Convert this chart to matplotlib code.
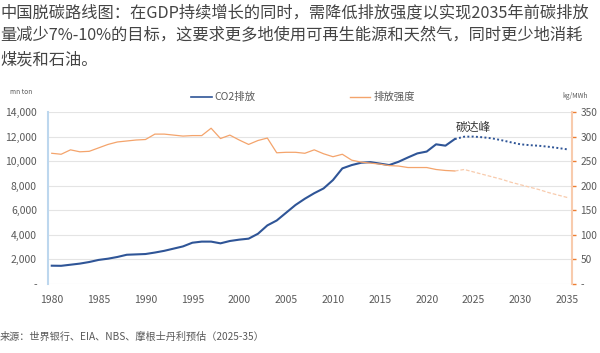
import matplotlib
matplotlib.use("Agg")
import matplotlib.pyplot as plt
from matplotlib.ticker import FuncFormatter, MultipleLocator
from matplotlib.lines import Line2D

plt.rcParams['font.family'] = ['Noto Sans CJK SC', 'DejaVu Sans']

years_hist = list(range(1980, 2024))
co2_hist = [1490, 1480, 1570, 1660, 1790, 1960, 2060, 2200, 2380, 2410,
            2440, 2560, 2700, 2880, 3060, 3360, 3450, 3450, 3310, 3500,
            3610, 3690, 4090, 4770, 5170, 5800, 6430, 6940, 7390, 7780,
            8460, 9410, 9680, 9870, 9920, 9800, 9680, 9950, 10300, 10630,
            10780, 11370, 11260, 11800]
years_proj = list(range(2023, 2036))
co2_proj = [11800, 11990, 12000, 11940, 11850, 11700, 11530, 11370, 11300,
            11250, 11170, 11070, 10960]

int_hist = [266, 264, 273, 269, 270, 277, 284, 289, 291, 293,
            294, 305, 305, 303, 301, 302, 302, 317, 296, 303,
            293, 284, 292, 297, 267, 268, 268, 266, 273, 265,
            259, 264, 252, 248, 246, 244, 241, 240, 237, 237,
            237, 233, 231, 230]
int_proj = [230, 233, 228, 223, 218, 213, 207, 202, 197, 192, 186, 181, 176]

xticks = list(range(1980, 2036, 5))

title = ("中国脱碳路线图：在GDP持续增长的同时，需降低排放强度以实现2035年前碳排放\n"
         "量减少7%-10%的目标，这要求更多地使用可再生能源和天然气，同时更少地消耗\n"
         "煤炭和石油。")
source = "来源：世界银行、EIA、NBS、摩根士丹利预估（2025-35）"

BLUE = '#2f5597'
ORANGE = '#f4a46c'
ORANGE_L = '#f8cbad'
GRAY = '#595959'

fig = plt.figure(figsize=(6, 3.53), dpi=100)
ax = fig.add_axes([48/600, 1-284/353, (572-48)/600, (284-112)/353])
ax2 = ax.twinx()

ax.plot(years_hist, co2_hist, color=BLUE, lw=1.5, zorder=3)
ax.plot(years_proj, co2_proj, color=BLUE, lw=1.4, ls=(0, (1, 1.2)), zorder=3)
ax2.plot(years_hist, int_hist, color=ORANGE, lw=0.9)
ax2.plot(years_proj, int_proj, color=ORANGE_L, lw=0.9, ls=(0, (3, 1.5)))

ax.set_xlim(1979.6, 2035.5)
ax.set_ylim(0, 14000)
ax2.set_ylim(0, 350)
ax.yaxis.set_major_locator(MultipleLocator(2000))
ax2.yaxis.set_major_locator(MultipleLocator(50))
fmt = FuncFormatter(lambda v, p: '-' if v == 0 else f'{v:,.0f}')
ax.yaxis.set_major_formatter(fmt)
ax2.yaxis.set_major_formatter(fmt)
ax.set_xticks(xticks)
ax.grid(axis='y', color='#e4e4e4', lw=0.8)
ax.set_axisbelow(True)

for a in (ax, ax2):
    for s in ('top', 'bottom'):
        a.spines[s].set_visible(False)
ax.spines['right'].set_visible(False)
ax2.spines['left'].set_visible(False)
ax.spines['left'].set_color('#bdd7ee')
ax.spines['left'].set_linewidth(1.5)
ax2.spines['right'].set_color('#f8cbad')
ax2.spines['right'].set_linewidth(1.5)

ax.tick_params(axis='x', length=0, labelsize=7.5, labelcolor=GRAY, pad=8)
ax.tick_params(axis='y', length=0, labelsize=7.5, labelcolor=GRAY, pad=8)
ax2.tick_params(axis='y', length=3, color='#ed7d31', width=1, labelsize=7.3,
                labelcolor=GRAY, pad=3)

fig.text(0, 1-4/353, title, ha='left', va='top', fontsize=11.7,
         color='#444444', linespacing=1.5)
fig.text(10/600, 1-92/353, 'mn ton', fontsize=4.8, color=GRAY, va='center')
fig.text(562/600, 1-96/353, 'kg/MWh', fontsize=4.8, color=GRAY, va='center')
ax.annotate('碳达峰', xy=(2025, 12750), ha='center', va='center',
            fontsize=8.5, color='#333333')

fig.lines.append(Line2D([191/600, 212/600], [1-97/353]*2, color=BLUE, lw=1.2,
                        transform=fig.transFigure))
fig.text(214/600, 1-97/353, 'CO2排放', fontsize=7.5, color=GRAY, va='center')
fig.lines.append(Line2D([350/600, 370/600], [1-97/353]*2, color=ORANGE, lw=1.0,
                        transform=fig.transFigure))
fig.text(374/600, 1-97/353, '排放强度', fontsize=7.5, color=GRAY, va='center')

fig.text(0, 1-337/353, source, fontsize=7.3, color=GRAY, va='center')

fig.savefig('out.png', dpi=100)
